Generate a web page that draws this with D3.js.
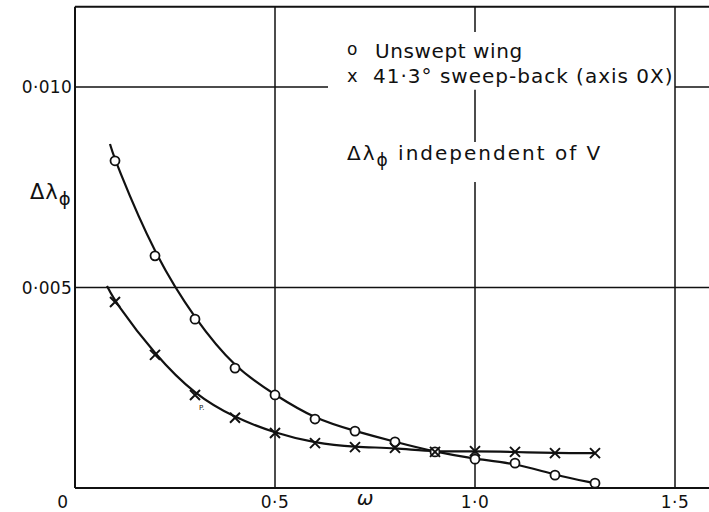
<!DOCTYPE html>
<html><head><meta charset="utf-8">
<script src="https://cdn.jsdelivr.net/npm/d3@7"></script>
<style>
body{margin:0;background:#fff}
svg{display:block}
text{font-family:"DejaVu Sans",sans-serif;fill:#111}
</style>
</head><body>
<svg id="c" width="709" height="512"></svg>
<script>
// ---- data ----
const omega = [0.1,0.2,0.3,0.4,0.5,0.6,0.7,0.8,0.9,1.0,1.1,1.2,1.3];
const unswept = [0.00816,0.00579,0.00421,0.00299,0.00232,0.00172,0.00142,0.00115,0.00090,0.00072,0.00062,0.00032,0.00012];
const swept   = [0.00464,0.00332,0.00232,0.00175,0.00137,0.00112,0.00102,0.00100,0.00090,0.00092,0.00090,0.00087,0.00087];
// start of the faired curves (they begin a little before the first point)
const unsweptCurveStart = [0.0875, 0.00858];
const sweptCurveStart   = [0.080, 0.00504];
const xTicks = [0, 0.5, 1.0, 1.5];
const xTickLabels = ["0", "0·5", "1·0", "1·5"];
const yTicks = [0.005, 0.010];
const yTickLabels = ["0·005", "0·010"];

// ---- layout ----
const W = 709, H = 512;
const svg = d3.select("#c");
const x = d3.scaleLinear().domain([0, 1.5]).range([75, 675]);
const y = d3.scaleLinear().domain([0, 0.012]).range([488, 6.8]);
const xMax = x.invert(W);
const ink = "#111";

const g = svg.append("g");

function vseg(xv, y0, y1, w){ g.append("line").attr("x1",x(xv)).attr("x2",x(xv)).attr("y1",y(y0)).attr("y2",y(y1)).attr("stroke",ink).attr("stroke-width",w); }
function hseg(yv, x0, x1, w){ g.append("line").attr("x1",x(x0)).attr("x2",x(x1)).attr("y1",y(yv)).attr("y2",y(yv)).attr("stroke",ink).attr("stroke-width",w); }

// gridlines (some broken where lettering sits)
vseg(0.5, 0, 0.012, 1.5);
vseg(1.0, 0, 0.00763, 1.5);
vseg(1.0, 0.00863, 0.00993, 1.5);
vseg(1.0, 0.01137, 0.012, 1.5);
vseg(1.5, 0, 0.012, 1.5);
hseg(0.005, 0, xMax, 1.5);
hseg(0.010, 0, 0.6325, 1.5);
hseg(0.010, 1.5, xMax, 1.5);

// frame: left, top, bottom
vseg(0, 0, 0.012, 2);
hseg(0.012, 0, xMax, 2);
hseg(0, 0, xMax, 2);

// tick labels
xTicks.forEach((t,i)=>{
  g.append("text").attr("x", x(t) + (i===0?-12:0)).attr("y", 508)
    .attr("text-anchor","middle").attr("font-size",17).attr("letter-spacing",0.5).text(xTickLabels[i]);
});
yTicks.forEach((t,i)=>{
  g.append("text").attr("x", 72).attr("y", y(t)+6)
    .attr("text-anchor","end").attr("font-size",17).attr("letter-spacing",0.3).text(yTickLabels[i]);
});

// axis titles
g.append("text").attr("x", 365).attr("y", 505).attr("text-anchor","middle")
  .attr("font-size",20).attr("font-style","italic").text("ω");
const yl = g.append("text").attr("x", 30).attr("y", 199).attr("font-size",21).attr("letter-spacing",1);
yl.append("tspan").text("Δλ");
yl.append("tspan").attr("dy",6).attr("font-size",18).text("ϕ");

// curves
const line = d3.line().x(d=>x(d[0])).y(d=>y(d[1])).curve(d3.curveBasis);
const uPts = [unsweptCurveStart].concat(omega.map((o,i)=>[o, unswept[i]]));
const sPts = [sweptCurveStart].concat(omega.map((o,i)=>[o, swept[i]]));
g.append("path").attr("d", line(uPts)).attr("fill","none").attr("stroke",ink).attr("stroke-width",2.2);
g.append("path").attr("d", line(sPts)).attr("fill","none").attr("stroke",ink).attr("stroke-width",2.2);

// markers
g.selectAll("circle.u").data(omega).enter().append("circle")
  .attr("cx", d=>x(d)).attr("cy", (d,i)=>y(unswept[i])).attr("r", 4.5)
  .attr("fill","#fff").attr("stroke",ink).attr("stroke-width",1.8);
const s = 5;
omega.forEach((o,i)=>{
  const cx = x(o), cy = y(swept[i]);
  g.append("path").attr("d", `M${cx-s},${cy-s}L${cx+s},${cy+s}M${cx-s},${cy+s}L${cx+s},${cy-s}`)
    .attr("stroke",ink).attr("stroke-width",2).attr("fill","none");
});

// legend / notes
g.append("text").attr("x", 347).attr("y", 55).attr("font-size",17).text("o");
g.append("text").attr("x", 375).attr("y", 58).attr("font-size",20).attr("letter-spacing",0.6).text("Unswept wing");
g.append("text").attr("x", 347).attr("y", 82).attr("font-size",18).text("x");
g.append("text").attr("x", 373).attr("y", 83).attr("font-size",20).attr("letter-spacing",1.0)
  .text("41·3° sweep-back (axis 0X)");
const n = g.append("text").attr("x", 347).attr("y", 160).attr("font-size",20).attr("letter-spacing",2);
n.append("tspan").text("Δλ");
n.append("tspan").attr("dy",6).attr("font-size",17).text("ϕ");
n.append("tspan").attr("dy",-6).text(" independent of V");

// small stray mark in the original
g.append("text").attr("x", 199).attr("y", 410).attr("font-size",7).attr("fill","#555").text("P.");
</script>
</body></html>
